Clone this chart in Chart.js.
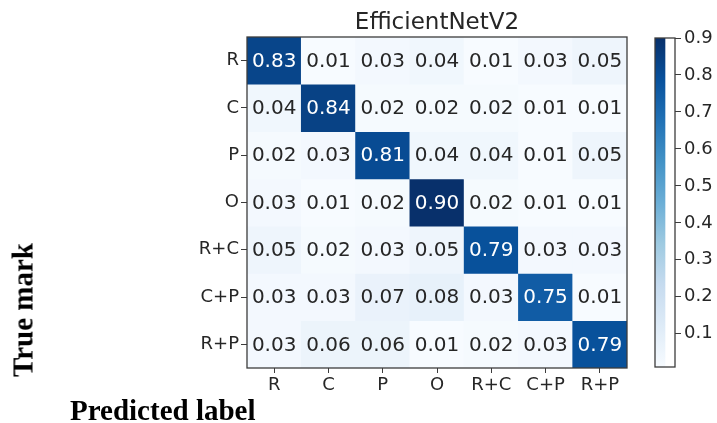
<!DOCTYPE html>
<html>
<head>
<meta charset="utf-8">
<script src="https://cdn.jsdelivr.net/npm/chart.js@4.4.1/dist/chart.umd.min.js"></script>
<style>
  html, body { margin: 0; padding: 0; background: #ffffff; }
  #wrap { position: relative; width: 717px; height: 423px; overflow: hidden; }
  #main { position: absolute; left: 0; top: 0; }
  #cbar { position: absolute; left: 640px; top: 0; }
  .lab { position: absolute; font-family: "Liberation Serif", "Times New Roman", serif; font-weight: bold; font-size: 29px; line-height: 1; color: #000; white-space: nowrap; }
  #ylab { left: 23px; top: 310px; transform: translate(-50%, -50%) rotate(-90deg); }
  #xlab { left: 70px; top: 396px; }
</style>
</head>
<body>
<div id="wrap">
  <canvas id="main" width="717" height="423"></canvas>
  <canvas id="cbar" width="77" height="423"></canvas>
  <div class="lab" id="ylab">True mark</div>
  <div class="lab" id="xlab">Predicted label</div>
</div>
<script>
// ---- data ----
const colLabels = ['R', 'C', 'P', 'O', 'R+C', 'C+P', 'R+P'];
const rowLabels = ['R', 'C', 'P', 'O', 'R+C', 'C+P', 'R+P'];
const rowR  = [0.83, 0.01, 0.03, 0.04, 0.01, 0.03, 0.05];
const rowC  = [0.04, 0.84, 0.02, 0.02, 0.02, 0.01, 0.01];
const rowP  = [0.02, 0.03, 0.81, 0.04, 0.04, 0.01, 0.05];
const rowO  = [0.03, 0.01, 0.02, 0.90, 0.02, 0.01, 0.01];
const rowRC = [0.05, 0.02, 0.03, 0.05, 0.79, 0.03, 0.03];
const rowCP = [0.03, 0.03, 0.07, 0.08, 0.03, 0.75, 0.01];
const rowRP = [0.03, 0.06, 0.06, 0.01, 0.02, 0.03, 0.79];
const colorbarTicks = [0.1, 0.2, 0.3, 0.4, 0.5, 0.6, 0.7, 0.8, 0.9];
const titleText = 'EfficientNetV2';

const matrix = [rowR, rowC, rowP, rowO, rowRC, rowCP, rowRP];
const allVals = matrix.flat();
const vmin = Math.min(...allVals);
const vmax = Math.max(...allVals);

// matplotlib "Blues" colormap
const bluesStops = [
  [247, 251, 255], [222, 235, 247], [198, 219, 239], [158, 202, 225],
  [107, 174, 214], [66, 146, 198], [33, 113, 181], [8, 81, 156], [8, 48, 107]
];
function blues(t) {
  t = Math.max(0, Math.min(1, t));
  const p = t * (bluesStops.length - 1);
  const i = Math.min(Math.floor(p), bluesStops.length - 2);
  const f = p - i;
  const a = bluesStops[i], b = bluesStops[i + 1];
  const c = a.map((v, k) => Math.round(v + (b[k] - v) * f));
  return `rgb(${c[0]},${c[1]},${c[2]})`;
}
const norm = v => (v - vmin) / (vmax - vmin);

const tickFont = { family: 'DejaVu Sans', size: 18 };
const textColor = '#262626';
const frameColor = '#3c3c3c';

const framePlugin = {
  id: 'frame',
  afterDraw(chart) {
    const ca = chart.chartArea, ctx = chart.ctx;
    ctx.save();
    ctx.strokeStyle = frameColor;
    ctx.lineWidth = 1.3;
    ctx.strokeRect(ca.left, ca.top, ca.right - ca.left, ca.bottom - ca.top);
    ctx.restore();
  }
};

const cellTextPlugin = {
  id: 'cellText',
  afterDatasetsDraw(chart) {
    const ctx = chart.ctx;
    ctx.save();
    ctx.font = '20px "DejaVu Sans"';
    ctx.textAlign = 'center';
    ctx.textBaseline = 'middle';
    chart.data.datasets.forEach((ds, i) => {
      const meta = chart.getDatasetMeta(i);
      meta.data.forEach((el, j) => {
        const v = matrix[i][j];
        const cy = (el.y + el.base) / 2;
        ctx.fillStyle = v > (vmin + vmax) / 2 ? '#ffffff' : textColor;
        ctx.fillText(v.toFixed(2), el.x, cy + 1);
      });
    });
    ctx.restore();
  }
};

new Chart(document.getElementById('main'), {
  type: 'bar',
  data: {
    labels: colLabels,
    datasets: matrix.map((row, i) => ({
      label: rowLabels[i],
      data: row.map(() => [i, i + 1]),
      backgroundColor: row.map(v => blues(norm(v))),
      borderWidth: 0,
      barPercentage: 1,
      categoryPercentage: 1,
      grouped: false
    }))
  },
  options: {
    responsive: false,
    animation: false,
    devicePixelRatio: 1,
    layout: { padding: { left: 0, right: 90, top: 0, bottom: 0 } },
    plugins: {
      legend: { display: false },
      tooltip: { enabled: false },
      title: {
        display: true,
        text: titleText,
        fullSize: false,
        color: textColor,
        font: { family: 'DejaVu Sans', size: 23, weight: 'normal', lineHeight: 1 },
        padding: { top: 12, bottom: 2 }
      }
    },
    scales: {
      x: {
        type: 'category',
        offset: true,
        grid: { offset: false, drawOnChartArea: false, drawTicks: true, tickLength: 5, color: frameColor },
        border: { display: false },
        ticks: { font: tickFont, color: textColor, padding: 2, maxRotation: 0, autoSkip: false },
        afterFit: s => { s.height = 55; }
      },
      y: {
        type: 'linear',
        min: 0,
        max: 7,
        reverse: true,
        grid: { drawOnChartArea: false, drawTicks: true, tickLength: 6, color: frameColor },
        border: { display: false },
        afterBuildTicks: s => { s.ticks = rowLabels.map((_, i) => ({ value: i + 0.5 })); },
        ticks: {
          font: tickFont, color: textColor, padding: 2, autoSkip: false,
          callback: v => rowLabels[Math.floor(v)]
        },
        afterFit: s => { s.width = 247; }
      }
    }
  },
  plugins: [cellTextPlugin, framePlugin]
});

// ---- colorbar ----
new Chart(document.getElementById('cbar'), {
  type: 'bar',
  data: {
    labels: ['cb'],
    datasets: [{
      data: [[vmin, vmax]],
      borderWidth: 0,
      barPercentage: 1,
      categoryPercentage: 1,
      backgroundColor: (c) => {
        const ca = c.chart.chartArea;
        if (!ca) return 'rgb(107,174,214)';
        const g = c.chart.ctx.createLinearGradient(0, ca.bottom, 0, ca.top);
        bluesStops.forEach((s, k) => g.addColorStop(k / (bluesStops.length - 1), `rgb(${s[0]},${s[1]},${s[2]})`));
        return g;
      }
    }]
  },
  options: {
    responsive: false,
    animation: false,
    devicePixelRatio: 1,
    layout: { padding: { left: 15, right: 0, top: 38, bottom: 56 } },
    plugins: { legend: { display: false }, tooltip: { enabled: false } },
    scales: {
      x: { display: false, offset: false },
      y: {
        type: 'linear',
        position: 'right',
        min: vmin,
        max: vmax,
        grid: { drawOnChartArea: false, drawTicks: true, tickLength: 6, color: frameColor },
        border: { display: false },
        afterBuildTicks: s => { s.ticks = colorbarTicks.map(v => ({ value: v })); },
        ticks: { font: tickFont, color: textColor, padding: 3, callback: v => v.toFixed(1) },
        afterFit: s => { s.width = 42; }
      }
    }
  },
  plugins: [framePlugin]
});
</script>
</body>
</html>
